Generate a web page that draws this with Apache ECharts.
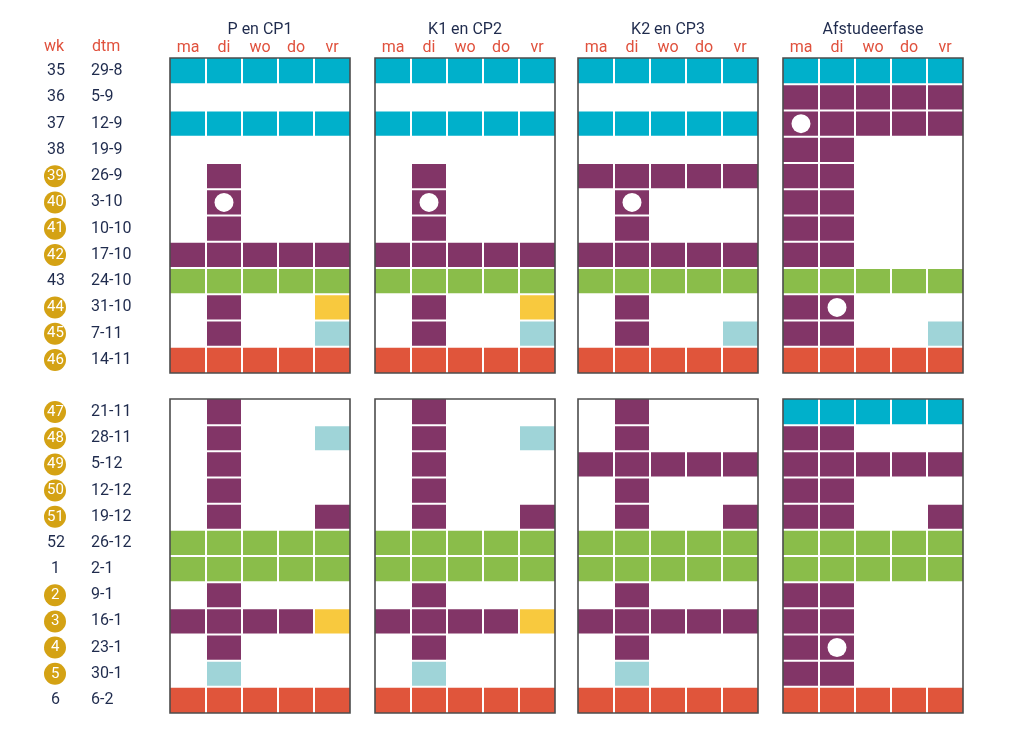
<!DOCTYPE html>
<html>
<head>
<meta charset="utf-8">
<script src="https://cdn.jsdelivr.net/npm/echarts@6/dist/echarts.min.js"></script>
<style>html,body{margin:0;padding:0;background:#fff;}#c{width:1024px;height:738px;}</style>
</head>
<body>
<div id="c"></div>
<script>
// ---- data ----
const days = ['ma', 'di', 'wo', 'do', 'vr'];
const panelTitles = ['P en CP1', 'K1 en CP2', 'K2 en CP3', 'Afstudeerfase'];
const weeksTop = ['35', '36', '37', '38', '39', '40', '41', '42', '43', '44', '45', '46'];
const datesTop = ['29-8', '5-9', '12-9', '19-9', '26-9', '3-10', '10-10', '17-10', '24-10', '31-10', '7-11', '14-11'];
const weeksBottom = ['47', '48', '49', '50', '51', '52', '1', '2', '3', '4', '5', '6'];
const datesBottom = ['21-11', '28-11', '5-12', '12-12', '19-12', '26-12', '2-1', '9-1', '16-1', '23-1', '30-1', '6-2'];
const circledWeeks = ['39', '40', '41', '42', '44', '45', '46', '47', '48', '49', '50', '51', '2', '3', '4', '5'];

// cell codes: C cyan, P purple, G green, R red, Y yellow, T light teal, . empty
const p1Top = ['CCCCC', '.....', 'CCCCC', '.....', '.P...', '.P...', '.P...', 'PPPPP', 'GGGGG', '.P..Y', '.P..T', 'RRRRR'];
const p1Bottom = ['.P...', '.P..T', '.P...', '.P...', '.P..P', 'GGGGG', 'GGGGG', '.P...', 'PPPPY', '.P...', '.T...', 'RRRRR'];
const p2Top = ['CCCCC', '.....', 'CCCCC', '.....', '.P...', '.P...', '.P...', 'PPPPP', 'GGGGG', '.P..Y', '.P..T', 'RRRRR'];
const p2Bottom = ['.P...', '.P..T', '.P...', '.P...', '.P..P', 'GGGGG', 'GGGGG', '.P...', 'PPPPY', '.P...', '.T...', 'RRRRR'];
const p3Top = ['CCCCC', '.....', 'CCCCC', '.....', 'PPPPP', '.P...', '.P...', 'PPPPP', 'GGGGG', '.P...', '.P..T', 'RRRRR'];
const p3Bottom = ['.P...', '.P...', 'PPPPP', '.P...', '.P..P', 'GGGGG', 'GGGGG', '.P...', 'PPPPP', '.P...', '.T...', 'RRRRR'];
const p4Top = ['CCCCC', 'PPPPP', 'PPPPP', 'PP...', 'PP...', 'PP...', 'PP...', 'PP...', 'GGGGG', 'PP...', 'PP..T', 'RRRRR'];
const p4Bottom = ['CCCCC', 'PP...', 'PPPPP', 'PP...', 'PP..P', 'GGGGG', 'GGGGG', 'PP...', 'PP...', 'PP...', 'PP...', 'RRRRR'];

// white dots: [panel, block(0 top,1 bottom), week, day]
const dots = [[0, 0, '40', 'di'], [1, 0, '40', 'di'], [2, 0, '40', 'di'], [3, 0, '37', 'ma'], [3, 0, '44', 'di'], [3, 1, '4', 'di']];

// ---- styles ----
const colorMap = { C: '#00b0cb', P: '#823567', G: '#8abd4a', R: '#e0553b', Y: '#f8c93e', T: '#9fd4d8' };
const navy = '#1f2b4d', redText = '#e0513d', gold = '#d4a214';
const FONT = 'Roboto, "Open Sans", sans-serif';

const patterns = [[p1Top, p1Bottom], [p2Top, p2Bottom], [p3Top, p3Bottom], [p4Top, p4Bottom]];
const panelLeft = [170, 375, 578, 783];
const panelWidth = 180;
const blockTop = [58, 399];
const blockHeight = [315, 314];

const grids = [], xAxes = [], yAxes = [], series = [];

const numStyle = { color: navy, fontSize: 16, fontFamily: FONT, align: 'left' };
const circStyle = { height: 22, lineHeight: 22, borderRadius: 11, backgroundColor: gold, color: '#fff', fontSize: 15, fontFamily: FONT, align: 'left' };

for (let p = 0; p < 4; p++) {
  for (let b = 0; b < 2; b++) {
    const gi = grids.length;
    const weeks = b === 0 ? weeksTop : weeksBottom;
    const dates = b === 0 ? datesTop : datesBottom;
    grids.push({ left: panelLeft[p], top: blockTop[b], width: panelWidth, height: blockHeight[b], show: false });
    xAxes.push({
      type: 'category', gridIndex: gi, data: days, position: 'top',
      axisLine: { show: false }, axisTick: { show: false }, splitLine: { show: false },
      axisLabel: { show: b === 0, color: redText, fontSize: 16, fontFamily: FONT, margin: 2 },
      name: b === 0 ? panelTitles[p] : '', nameLocation: 'middle', nameGap: 20,
      nameTextStyle: { color: navy, fontSize: 16, fontFamily: FONT }
    });
    yAxes.push({
      type: 'category', gridIndex: gi, data: weeks, inverse: true,
      axisLine: { show: false }, axisTick: { show: false }, splitLine: { show: false },
      axisLabel: {
        show: p === 0, margin: 5, interval: 0, fontFamily: FONT,
        formatter: function (v, i) {
          const d = dates[i];
          const two = v.length > 1;
          const key = (circledWeeks.indexOf(v) >= 0 ? 'g' : 'w') + (two ? '2' : '1');
          return '{s| }{' + key + '|' + v + '}{s2| }{d|' + d + '}';
        },
        rich: {
          s: { width: 10, align: 'left' },
          s2: { width: 25, align: 'left' },
          w2: Object.assign({ width: 16, padding: [0, 3, 0, 3] }, numStyle),
          w1: Object.assign({ width: 8, padding: [0, 7, 0, 7] }, numStyle),
          g2: Object.assign({ width: 16, padding: [0, 3, 0, 3] }, circStyle),
          g1: Object.assign({ width: 8, padding: [0, 7, 0, 7] }, circStyle),
          d: { width: 74, align: 'left', color: navy, fontSize: 16, fontFamily: FONT }
        }
      }
    });
    const pat = patterns[p][b];
    const cells = [];
    pat.forEach(function (row, r) {
      for (let c = 0; c < 5; c++) {
        const code = row[c];
        if (code !== '.') cells.push({ value: [c, r], code: code });
      }
    });
    const nRows = weeks.length;
    series.push({
      type: 'custom', xAxisIndex: gi, yAxisIndex: gi, silent: true, z: 2,
      data: cells.map(function (c) { return c.value; }),
      renderItem: function (params, api) {
        const cell = cells[params.dataIndex];
        const col = api.value(0), row = api.value(1);
        const ctr = api.coord([col, row]);
        const sz = api.size([1, 1]);
        let x0 = ctr[0] - sz[0] / 2, x1 = ctr[0] + sz[0] / 2;
        let y0 = ctr[1] - sz[1] / 2, y1 = ctr[1] + sz[1] / 2;
        if (col > 0) x0 += 1; if (col < 4) x1 -= 1;
        if (row > 0) y0 += 1; if (row < nRows - 1) y1 -= 1;
        return { type: 'rect', shape: { x: x0, y: y0, width: x1 - x0, height: y1 - y0 }, style: { fill: colorMap[cell.code] } };
      }
    });
    // frame
    series.push({
      type: 'custom', xAxisIndex: gi, yAxisIndex: gi, silent: true, z: 10,
      data: [[0, 0]],
      renderItem: function (params, api) {
        const a = api.coord([0, 0]), bb = api.coord([4, nRows - 1]);
        const sz = api.size([1, 1]);
        return {
          type: 'rect',
          shape: { x: a[0] - sz[0] / 2, y: a[1] - sz[1] / 2, width: bb[0] - a[0] + sz[0], height: bb[1] - a[1] + sz[1] },
          style: { fill: 'none', stroke: '#4d4d4d', lineWidth: 1.6 }
        };
      }
    });
    // dots
    const dd = dots.filter(function (d) { return d[0] === p && d[1] === b; }).map(function (d) {
      return [days.indexOf(d[3]), weeks.indexOf(d[2])];
    });
    if (dd.length) {
      series.push({
        type: 'scatter', xAxisIndex: gi, yAxisIndex: gi, silent: true, z: 5,
        symbol: 'circle', symbolSize: 19, itemStyle: { color: '#fff', opacity: 1 }, data: dd
      });
    }
  }
}

const chart = echarts.init(document.getElementById('c'), null, { renderer: 'canvas' });
chart.setOption({
  backgroundColor: '#fff',
  animation: false,
  grid: grids, xAxis: xAxes, yAxis: yAxes, series: series,
  graphic: [
    { type: 'text', left: 44, top: 39, style: { text: 'wk', fill: redText, fontSize: 16, fontFamily: FONT } },
    { type: 'text', left: 92, top: 39, style: { text: 'dtm', fill: redText, fontSize: 16, fontFamily: FONT } }
  ]
});
</script>
</body>
</html>
